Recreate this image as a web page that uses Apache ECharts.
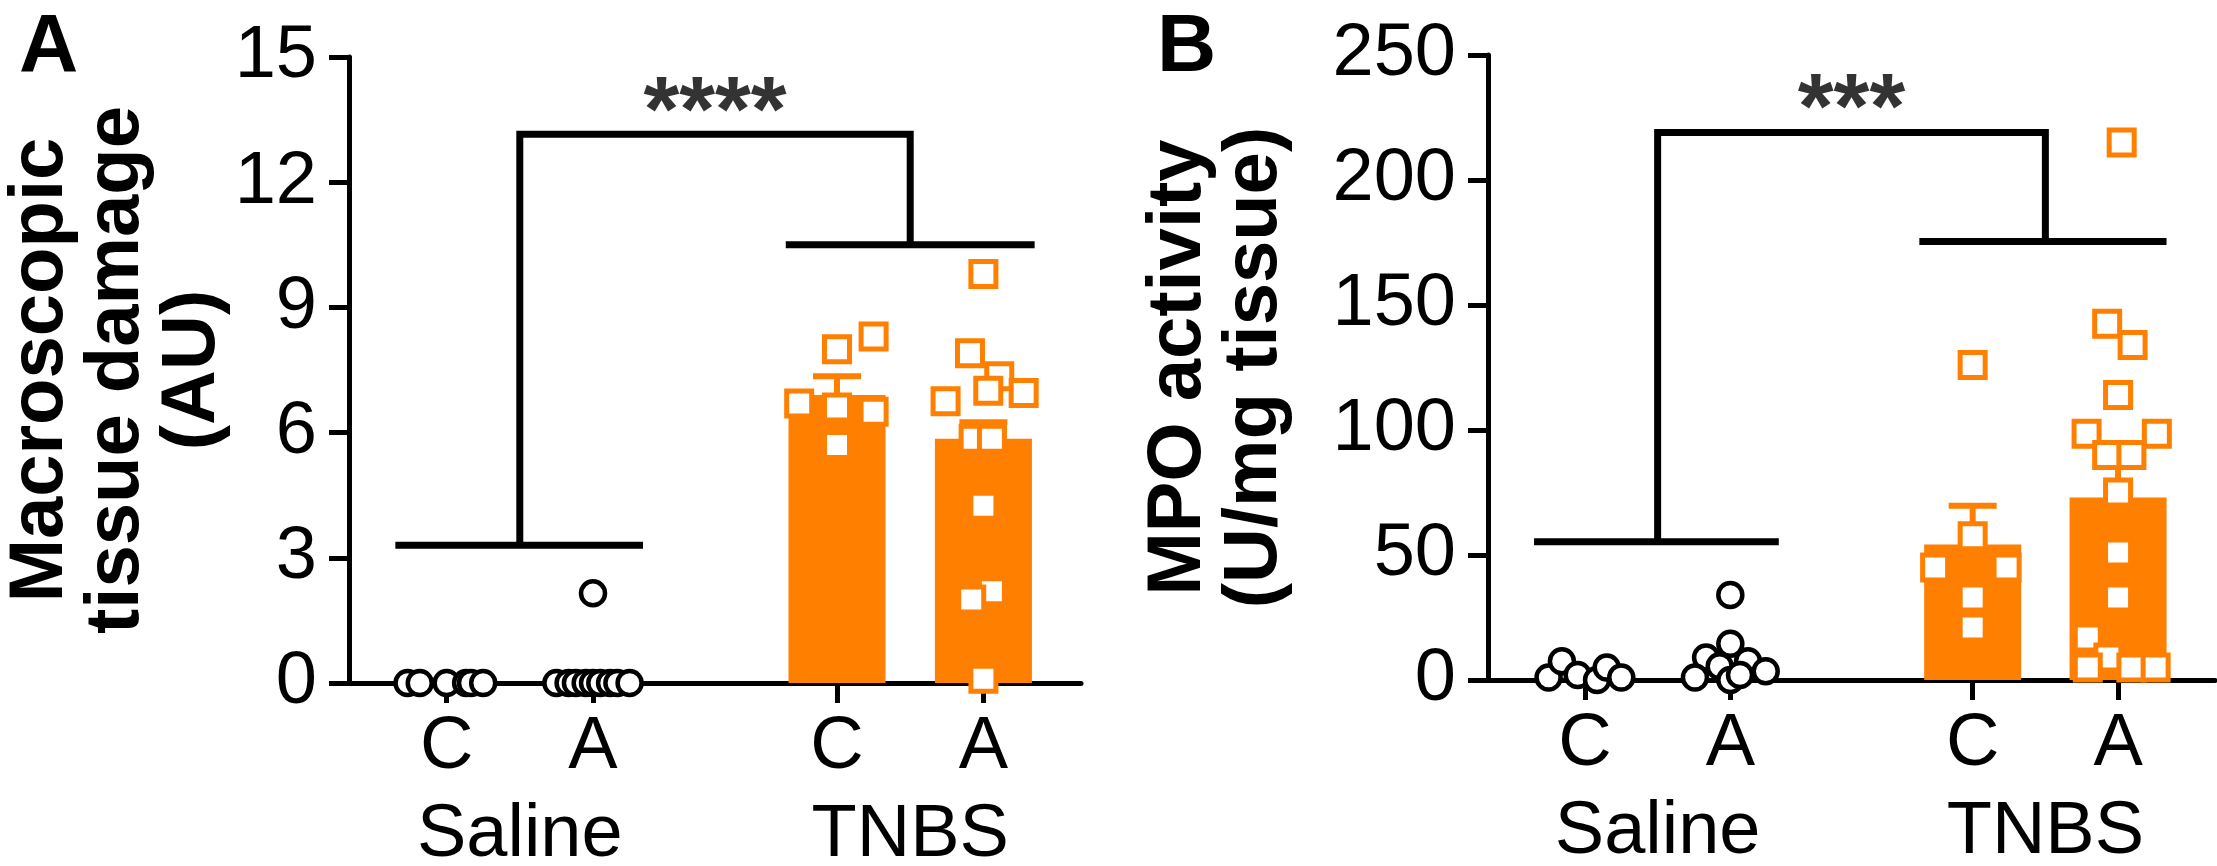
<!DOCTYPE html>
<html>
<head>
<meta charset="utf-8">
<script src="https://cdn.jsdelivr.net/npm/echarts@6/dist/echarts.min.js"></script>
<style>
html,body{margin:0;padding:0;background:#fff;}
#chart{width:2217px;height:866px;}
</style>
</head>
<body>
<div id="chart"></div>
<script>
// ---------- data ----------
const SLOTS = 31;                       // x slots 0..30 along each x axis
const catPos = [4, 10, 20, 26];         // C, A, C, A positions
const catLabels = ['C', 'A', 'C', 'A'];
const groupPos = [7, 23];
const groupLabels = ['Saline', 'TNBS'];

// Panel A: Macroscopic tissue damage (AU)
const yTicksA = [0, 15, 3];             // min, max, interval
const aSalC_vals = [0, 0, 0, 0, 0, 0];
const aSalC_jit  = [-1.6, -1.1, 0, 0.8, 1.0, 1.5];
const aSalA_vals = [0, 0, 0, 0, 0, 0, 0, 0, 0, 2.15];
const aSalA_jit  = [-1.5, -1.0, -0.7, -0.3, 0, 0.3, 0.7, 1.0, 1.5, 0];
const aTnbC_vals = [8.0, 8.3, 6.7, 6.5, 6.6, 5.7];
const aTnbC_jit  = [0, 1.5, -1.55, 1.5, 0, 0];
const aTnbA_vals = [9.8, 7.9, 7.35, 6.75, 7.0, 6.95, 5.85, 5.85, 4.25, 2.2, 2.0, 0.1];
const aTnbA_jit  = [0, -0.55, 0.65, -1.55, 0.2, 1.65, -0.4, 0.35, 0, 0.35, -0.5, 0];
const aBarMean = [6.9, 5.85];
const aBarSem  = [0.45, 0.4];
const aBracket = [1.9, 12.05, 3.3, 17.9, 28.1, 10.5, 13.15]; // salL, salR, salY, tnbL, tnbR, tnbY, topY
const aStars = ['****', 13.6];

// Panel B: MPO activity (U/mg tissue)
const yTicksB = [0, 250, 50];
const bSalC_vals = [1, 7.5, 2, 0, 5, 1];
const bSalC_jit  = [-1.5, -0.95, -0.3, 0.5, 0.9, 1.5];
const bSalA_vals = [34, 14.5, 9, 1, 5.5, 7.5, 3.5, 0, 2];
const bSalA_jit  = [0, 0, -1.0, -1.46, -0.44, 0.73, 1.46, 0, 0.4];
const bTnbC_vals = [126, 57.5, 45, 45, 33, 21];
const bTnbC_jit  = [0, 0, -1.55, 1.4, 0, 0];
const bTnbA_vals = [215, 142.5, 134, 114, 98.5, 98.5, 90, 90, 75, 51, 33, 17, 9, 5, 5, 5];
const bTnbA_jit  = [0.15, -0.45, 0.6, 0, -1.3, 1.6, -0.45, 0.55, 0, 0, 0, -1.25, -0.4, -1.25, 0.55, 1.55];
const bBarMean = [54.2, 73];
const bBarSem  = [15.5, 13];
const bBracket = [1.9, 12.0, 55.3, 17.8, 28.0, 175.4, 219];
const bStars = ['***', 227];

// ---------- styling ----------
const FONT = '"Liberation Sans", Arial, Helvetica, sans-serif';
const ORANGE = '#FF7F00';
const BLACK = '#000000';

const slotNames = Array.from({length: SLOTS}, (_, i) => 's' + i);
function catLabelAt(i) { const k = catPos.indexOf(i); return k >= 0 ? catLabels[k] : ''; }
function groupLabelAt(i) { const k = groupPos.indexOf(i); return k >= 0 ? groupLabels[k] : ''; }

function xAxesFor(gridIndex) {
  return [
    {
      type: 'category', gridIndex, position: 'bottom', data: slotNames, boundaryGap: false,
      axisLine: {show: true, lineStyle: {color: BLACK, width: 5}},
      axisTick: {show: true, length: 20, lineStyle: {color: BLACK, width: 5},
        interval: (i) => catPos.indexOf(i) >= 0},
      axisLabel: {show: true, interval: (i) => catPos.indexOf(i) >= 0,
        formatter: (v, i) => catLabelAt(i), color: BLACK, fontFamily: FONT, fontSize: 74, margin: 28},
      splitLine: {show: false}
    },
    {
      type: 'category', gridIndex, position: 'bottom', data: slotNames, boundaryGap: false, offset: 88,
      axisLine: {show: false}, axisTick: {show: false},
      axisLabel: {show: true, interval: (i) => groupPos.indexOf(i) >= 0,
        formatter: (v, i) => groupLabelAt(i), color: BLACK, fontFamily: FONT, fontSize: 74, margin: 28},
      splitLine: {show: false}
    },
    {
      type: 'value', gridIndex, position: 'bottom', min: 0, max: SLOTS - 1, show: false
    }
  ];
}

function yAxisFor(gridIndex, ticks, name, nameGap) {
  return {
    type: 'value', gridIndex, position: 'left', min: ticks[0], max: ticks[1], interval: ticks[2],
    axisLine: {show: true, lineStyle: {color: BLACK, width: 5}},
    axisTick: {show: true, length: 20, lineStyle: {color: BLACK, width: 5}},
    axisLabel: {color: BLACK, fontFamily: FONT, fontSize: 74, margin: 32},
    splitLine: {show: false},
    name, nameLocation: 'middle', nameGap,
    nameTextStyle: {color: BLACK, fontFamily: FONT, fontSize: 76, fontWeight: 'bold', lineHeight: 76}
  };
}

function pts(center, jit, vals) { return vals.map((v, i) => [center + jit[i], v]); }

function scatter(xi, yi, data, isCircle) {
  return {
    type: 'scatter', xAxisIndex: xi, yAxisIndex: yi, data, z: 5,
    symbol: isCircle ? 'circle' : 'rect', symbolSize: isCircle ? 24 : 25,
    itemStyle: {color: '#fff', borderColor: isCircle ? BLACK : ORANGE, borderWidth: isCircle ? 4.5 : 5, opacity: 1},
    emphasis: {disabled: true}, animation: false
  };
}

function bars(xi, yi, means) {
  return {
    type: 'bar', xAxisIndex: xi, yAxisIndex: yi, barWidth: 97, z: 2,
    data: means.map((m, i) => [catPos[2 + i], m]),
    itemStyle: {color: ORANGE}, animation: false
  };
}

function errBars(xi, yi, means, sems) {
  return {
    type: 'custom', xAxisIndex: xi, yAxisIndex: yi, z: 3,
    data: means.map((m, i) => [catPos[2 + i], m, sems[i]]),
    renderItem: (params, api) => {
      const x = api.value(0), m = api.value(1), s = api.value(2);
      const p0 = api.coord([x, m]), p1 = api.coord([x, m + s]);
      return {type: 'group', children: [
        {type: 'line', shape: {x1: p0[0], y1: p0[1], x2: p1[0], y2: p1[1]}, style: {stroke: ORANGE, lineWidth: 6}},
        {type: 'line', shape: {x1: p1[0] - 24, y1: p1[1], x2: p1[0] + 24, y2: p1[1]}, style: {stroke: ORANGE, lineWidth: 6}}
      ]};
    },
    animation: false
  };
}

function lineSeg(xi, yi, data) {
  return {
    type: 'line', xAxisIndex: xi, yAxisIndex: yi, data, z: 4,
    symbol: 'none', lineStyle: {color: BLACK, width: 7, join: 'miter'},
    silent: true, animation: false
  };
}

function bracket(xi, yi, b) {
  const midL = groupPos[0], midR = groupPos[1];
  return [
    lineSeg(xi, yi, [[b[0], b[2]], [b[1], b[2]]]),
    lineSeg(xi, yi, [[b[3], b[5]], [b[4], b[5]]]),
    lineSeg(xi, yi, [[midL, b[2]], [midL, b[6]], [midR, b[6]], [midR, b[5]]])
  ];
}

function stars(xi, yi, s) {
  return {
    type: 'scatter', xAxisIndex: xi, yAxisIndex: yi, z: 6,
    data: [[(groupPos[0] + groupPos[1]) / 2, s[1]]],
    symbolSize: 1, itemStyle: {color: 'rgba(0,0,0,0)'},
    label: {show: true, position: 'inside', formatter: s[0], color: BLACK,
      fontFamily: FONT, fontSize: 92, fontWeight: 'bold'},
    animation: false
  };
}

function panelSeries(xi, yi, d) {
  return [
    bars(xi, yi, d.mean),
    errBars(xi, yi, d.mean, d.sem),
    scatter(xi, yi, pts(catPos[0], d.salCj, d.salC), true),
    scatter(xi, yi, pts(catPos[1], d.salAj, d.salA), true),
    scatter(xi, yi, pts(catPos[2], d.tnbCj, d.tnbC), false),
    scatter(xi, yi, pts(catPos[3], d.tnbAj, d.tnbA), false),
    ...bracket(xi, yi, d.br),
    stars(xi, yi, d.st)
  ];
}

const chart = echarts.init(document.getElementById('chart'), null, {renderer: 'canvas'});
chart.setOption({
  backgroundColor: '#ffffff',
  animation: false,
  title: [
    {text: 'A', left: 14, top: 2, textStyle: {fontFamily: FONT, fontSize: 82, fontWeight: 'bold', color: BLACK}},
    {text: 'B', left: 1152, top: 2, textStyle: {fontFamily: FONT, fontSize: 82, fontWeight: 'bold', color: BLACK}}
  ],
  grid: [
    {left: 349, top: 57, width: 732, height: 626, containLabel: false, outerBoundsMode: 'none'},
    {left: 1488, top: 55, width: 727, height: 625, containLabel: false, outerBoundsMode: 'none'}
  ],
  xAxis: [...xAxesFor(0), ...xAxesFor(1)],
  yAxis: [
    yAxisFor(0, yTicksA, 'Macroscopic\ntissue damage\n(AU)', 112),
    yAxisFor(1, yTicksB, 'MPO activity\n(U/mg tissue)', 195)
  ],
  series: [
    ...panelSeries(2, 0, {mean: aBarMean, sem: aBarSem, salC: aSalC_vals, salCj: aSalC_jit,
      salA: aSalA_vals, salAj: aSalA_jit, tnbC: aTnbC_vals, tnbCj: aTnbC_jit,
      tnbA: aTnbA_vals, tnbAj: aTnbA_jit, br: aBracket, st: aStars}),
    ...panelSeries(5, 1, {mean: bBarMean, sem: bBarSem, salC: bSalC_vals, salCj: bSalC_jit,
      salA: bSalA_vals, salAj: bSalA_jit, tnbC: bTnbC_vals, tnbCj: bTnbC_jit,
      tnbA: bTnbA_vals, tnbAj: bTnbA_jit, br: bBracket, st: bStars})
  ]
});
</script>
</body>
</html>
